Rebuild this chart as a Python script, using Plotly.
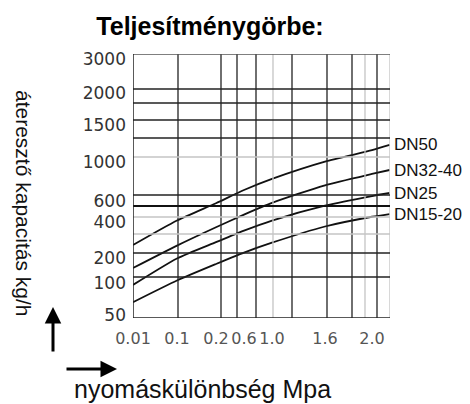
import numpy as np
import plotly.graph_objects as go

# ---- data ----
PRESSURE = [0.01, 0.1, 0.2, 0.6, 1.0, 1.6, 2.0, 2.15]          # MPa
DN50 = [272, 414, 579, 713, 827, 1005, 1159, 1230]               # kg/h
DN32_40 = [160, 269, 371, 470, 582, 761, 877, 918]
DN25 = [97, 198, 288, 352, 414, 556, 651, 682]
DN15_20 = [70, 110, 176, 230, 285, 375, 450, 476]
SERIES_NAMES = ["DN50", "DN32-40", "DN25", "DN15-20"]

X_TICK_VALUES = [0.01, 0.1, 0.2, 0.6, 1.0, 1.6, 2.0]
X_TICK_LABELS = ["0.01", "0.1", "0.2", "0.6", "1.0", "1.6", "2.0"]
Y_TICK_VALUES = [50, 100, 200, 400, 600, 1000, 1500, 2000, 3000]
Y_TICK_LABELS = ["50", "100", "200", "400", "600", "1000", "1500", "2000", "3000"]

# ---- layout (the chart's own non-uniform scales) ----
X_TICK_POS = [0, 44, 83, 111, 139, 192, 239]
Y_TICK_POS = [3, 35, 60, 96, 117, 156, 193, 225, 259]
X_RANGE = [0, 257]
Y_RANGE = [0, 264]
V_GRID_DARK = [45, 88, 104, 123, 159, 194, 219, 244]
V_GRID_LIGHT = [140, 232, 257]
H_GRID_DARK = [41, 65, 123, 180, 198, 215, 229]
H_GRID_THICK = [112]
H_GRID_LIGHT = [84, 101, 161]


def scale(v, vals, pos):
    v = np.asarray(v, dtype=float)
    out = np.interp(v, vals, pos)
    hi = v > vals[-1]
    slope = (pos[-1] - pos[-2]) / (vals[-1] - vals[-2])
    out[hi] = pos[-1] + (v[hi] - vals[-1]) * slope
    return out


def sx(v):
    return scale(v, X_TICK_VALUES, X_TICK_POS)


def sy(v):
    return scale(v, Y_TICK_VALUES, Y_TICK_POS)


def px(p):
    return (p - 133) / 257


def py(p):
    return (318 - p) / 264


fig = go.Figure()
shapes = []
for p in V_GRID_DARK:
    shapes.append(dict(type="line", xref="x", yref="y", x0=p, x1=p, y0=0, y1=264,
                       line=dict(color="#222", width=1.3)))
for p in V_GRID_LIGHT:
    shapes.append(dict(type="line", xref="x", yref="y", x0=p, x1=p, y0=0, y1=264,
                       line=dict(color="#c4c4c4", width=1.3)))
for p in H_GRID_DARK:
    shapes.append(dict(type="line", xref="x", yref="y", x0=0, x1=257, y0=p, y1=p,
                       line=dict(color="#222", width=1.3)))
for p in H_GRID_THICK:
    shapes.append(dict(type="line", xref="x", yref="y", x0=0, x1=257, y0=p, y1=p,
                       line=dict(color="#111", width=2.2)))
for p in H_GRID_LIGHT:
    shapes.append(dict(type="line", xref="x", yref="y", x0=0, x1=257, y0=p, y1=p,
                       line=dict(color="#c4c4c4", width=1.5)))
# frame
shapes.append(dict(type="line", xref="x", yref="y", x0=0, x1=257, y0=264, y1=264,
                   line=dict(color="#555", width=1.3)))
shapes.append(dict(type="line", xref="x", yref="y", x0=0, x1=257, y0=0, y1=0,
                   line=dict(color="#222", width=1.5)))
shapes.append(dict(type="line", xref="x", yref="y", x0=0, x1=0, y0=0, y1=264,
                   line=dict(color="#222", width=1.5)))

annotations = []
for name, vals in zip(SERIES_NAMES, [DN50, DN32_40, DN25, DN15_20]):
    xs = sx(PRESSURE)
    ys = sy(vals)
    fig.add_trace(go.Scatter(x=xs, y=ys, mode="lines", name=name,
                             line=dict(color="#111", width=1.8, shape="spline", smoothing=0.6),
                             hoverinfo="skip", showlegend=False, cliponaxis=False))
    annotations.append(dict(x=(xs[-1] + 2) / X_RANGE[1], y=ys[-1], xref="paper", yref="y",
                            text=name, showarrow=False, xanchor="left", yanchor="middle",
                            font=dict(family="Liberation Sans, Arial", size=17, color="#111")))

# axis titles
annotations.append(dict(x=px(24), y=py(203), xref="paper", yref="paper",
                        xanchor="center", yanchor="middle",
                        text="áteresztő kapacitás kg/h", textangle=90, showarrow=False,
                        font=dict(family="Liberation Sans, Arial", size=21, color="#111")))
annotations.append(dict(x=px(202), y=py(389), xref="paper", yref="paper",
                        xanchor="center", yanchor="middle",
                        text="nyomáskülönbség Mpa", showarrow=False,
                        font=dict(family="Liberation Sans, Arial", size=25, color="#111")))
# arrows
annotations.append(dict(x=px(53), y=py(307), xref="paper", yref="paper",
                        ax=0, ay=46, text="", showarrow=True, arrowhead=2, arrowsize=1.1,
                        arrowwidth=3, arrowcolor="#000"))
annotations.append(dict(x=px(117), y=py(369), xref="paper", yref="paper",
                        ax=-52, ay=0, text="", showarrow=True, arrowhead=2, arrowsize=1.1,
                        arrowwidth=3, arrowcolor="#000"))

fig.update_layout(
    width=470, height=404,
    margin=dict(l=133, r=80, t=54, b=86, autoexpand=False),
    paper_bgcolor="white", plot_bgcolor="white",
    title=dict(text="<b>Teljesítménygörbe:</b>", x=210 / 470, xanchor="center",
               y=1 - 26 / 404, yanchor="middle",
               font=dict(family="Liberation Sans, Arial", size=25, color="#000")),
    shapes=shapes, annotations=annotations,
    xaxis=dict(range=X_RANGE, tickmode="array", tickvals=X_TICK_POS, ticktext=X_TICK_LABELS,
               showgrid=False, zeroline=False, showline=False, ticks="",
               ticklabelstandoff=9,
               tickfont=dict(family="DejaVu Sans", size=16, color="#555")),
    yaxis=dict(range=Y_RANGE, tickmode="array", tickvals=Y_TICK_POS, ticktext=Y_TICK_LABELS,
               showgrid=False, zeroline=False, showline=False, ticks="",
               ticklabelstandoff=6,
               tickfont=dict(family="DejaVu Sans", size=17, color="#333")),
)

fig.write_html("out.html", config={"displayModeBar": False},
               post_script="document.body.style.margin='0';document.body.style.padding='0';")
